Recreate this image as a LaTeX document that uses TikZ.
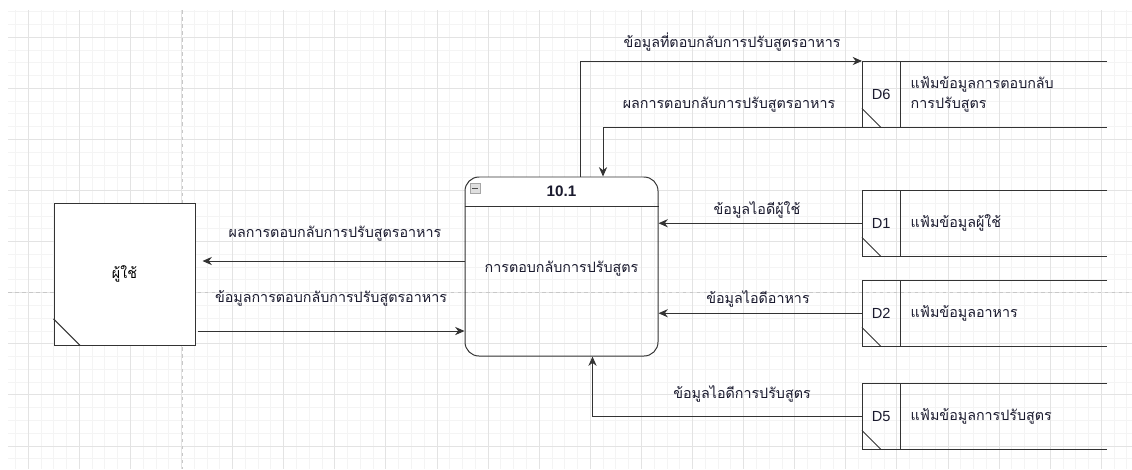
\documentclass[tikz,border=0pt]{standalone}
\usepackage{fontspec}
\setmainfont{Liberation Sans}
\newfontfamily\thaifont[Script=Thai]{Loma}
\usetikzlibrary{arrows.meta}
\usetikzlibrary{positioning}

\definecolor{gridminor}{HTML}{F4F4F4}
\definecolor{gridmajor}{HTML}{E3E3E3}
\definecolor{pagebreak}{HTML}{C8C8C8}
\definecolor{stroke}{HTML}{333333}
\definecolor{ink}{HTML}{1A1A2E}

\tikzset{
  line/.style={draw=stroke, line width=0.85pt},
  flow/.style={line, -{Stealth[length=8pt,width=7pt]}},
  lbl/.style={text=ink, inner sep=0pt, font=\thaifont\fontsize{12.2}{14}\selectfont},
  ent/.style={line, fill=white, minimum width=4.23cm, minimum height=4.26cm, inner sep=0pt},
  proc/.style={line, rounded corners=0.42cm, minimum width=5.79cm, minimum height=5.37cm, inner sep=0pt},
  storeid/.style={minimum width=1.14cm, minimum height=1.98cm, inner sep=0pt, text=ink,
    font=\fontsize{12.5}{14}\selectfont},
  storetxt/.style={text=ink, inner sep=0pt, align=left, font=\thaifont\fontsize{12.2}{17}\selectfont}
}

\begin{document}
\begin{tikzpicture}[x=0.03cm, y=-0.03cm]
  \useasboundingbox (0,0) rectangle (1132,469);

  % background grid
  \begin{scope}
    \clip (8,10) rectangle (1132,469);
    \foreach \i in {-1,...,87} {
      \draw[gridminor, line width=0.4pt] (28+\i*12.775,10) -- (28+\i*12.775,469);
    }
    \foreach \j in {-2,...,34} {
      \draw[gridminor, line width=0.4pt] (8,37+\j*12.775) -- (1132,37+\j*12.775);
    }
    \foreach \i in {0,...,21} {
      \draw[gridmajor, line width=0.4pt] (28+\i*51.1,10) -- (28+\i*51.1,469);
    }
    \foreach \j in {0,...,8} {
      \draw[gridmajor, line width=0.4pt] (8,37+\j*51.1) -- (1132,37+\j*51.1);
    }
    \draw[pagebreak, dashed, line width=0.6pt] (182,10) -- (182,469);
    \draw[pagebreak, dashed, line width=0.6pt] (8,292) -- (1132,292);
  \end{scope}

  % external entity
  \node[ent] (user) at (124.5,274) {\thaifont\fontsize{12.2}{14}\selectfont ผู้ใช้};
  \draw[line] ([yshift=0.8cm]user.south west) -- ([xshift=0.8cm]user.south west);

  % process
  \node[proc, path picture={
      \fill[white] (path picture bounding box.north west) rectangle
        ([yshift=-0.9cm]path picture bounding box.north east);}] (proc) at (561.5,266.5) {};
  \draw[line] ([yshift=-0.9cm]proc.north west) -- ([yshift=-0.9cm]proc.north east);
  \node[draw=gray!70, fill=gray!25, minimum size=0.3cm, inner sep=0pt] (fold)
    at ([xshift=0.315cm,yshift=-0.345cm]proc.north west) {};
  \draw[black!70, line width=0.8pt] ([xshift=2pt]fold.west) -- ([xshift=-2pt]fold.east);
  \node[font=\bfseries\fontsize{13}{15}\selectfont, text=ink] (pid)
    at ([yshift=-0.45cm]proc.north) {10.1};
  \node[lbl] (pname) at ([yshift=-0.05cm]proc.center) {การตอบกลับการปรับสูตร};

  % data stores
  \foreach \id/\yt/\txt in {D6/61/{แฟ้มข้อมูลการตอบกลับ\\การปรับสูตร},
                            D1/190/{แฟ้มข้อมูลผู้ใช้},
                            D2/280/{แฟ้มข้อมูลอาหาร},
                            D5/383/{แฟ้มข้อมูลการปรับสูตร}} {
    \node[storeid, anchor=north west] (\id) at (862,\yt) {\id};
    \draw[line] ([xshift=7.35cm]\id.north west) -- (\id.north west)
      -- (\id.south west) -- ([xshift=7.35cm]\id.south west);
    \draw[line] (\id.north east) -- (\id.south east);
    \draw[line] ([yshift=0.57cm]\id.south west) -- ([xshift=0.57cm]\id.south west);
    \node[storetxt, right=0.3cm of \id] (\id txt) {\txt};
  }

  % flows
  \draw[flow] ([xshift=0.555cm]proc.north) |- (D6.north west);
  \draw[flow] (D6.south west) -| ([xshift=1.245cm]proc.north);
  \draw[flow] (D1.west) -- (D1.west -| proc.east);
  \draw[flow] (D2.west) -- (D2.west -| proc.east);
  \draw[flow] (D5.west) -| ([xshift=0.93cm]proc.south);
  \draw[flow, shorten >=6pt] ([yshift=0.165cm]proc.west) -- ([yshift=0.165cm]proc.west -| user.east);
  \draw[flow, shorten <=2pt] ([yshift=-1.71cm]user.east) -- ([yshift=-1.71cm]user.east -| proc.west);

  % flow labels
  \node[lbl] (l1) at (732,42) {ข้อมูลที่ตอบกลับการปรับสูตรอาหาร};
  \node[lbl] (l2) at (729,105) {ผลการตอบกลับการปรับสูตรอาหาร};
  \node[lbl] (l3) at (757,210) {ข้อมูลไอดีผู้ใช้};
  \node[lbl] (l4) at (758,299) {ข้อมูลไอดีอาหาร};
  \node[lbl] (l5) at (742,394) {ข้อมูลไอดีการปรับสูตร};
  \node[lbl] (l6) at (335,234) {ผลการตอบกลับการปรับสูตรอาหาร};
  \node[lbl] (l7) at (331,298) {ข้อมูลการตอบกลับการปรับสูตรอาหาร};
\end{tikzpicture}
\end{document}
